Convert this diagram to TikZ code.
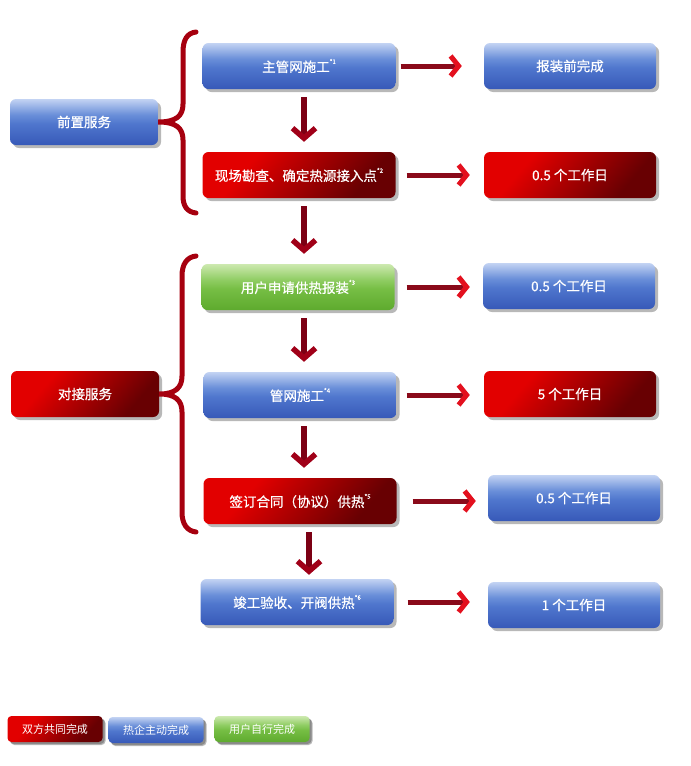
\documentclass[tikz,border=0pt]{standalone}
\usepackage{fontspec}
\setmainfont{Noto Sans CJK SC}
\newfontfamily\boxfont{Noto Sans CJK SC}[FakeBold=0.6]
\usetikzlibrary{arrows.meta,shadows}
\definecolor{bBot}{HTML}{3759B8}
\definecolor{bMid}{HTML}{4F76CD}
\definecolor{bMid2}{HTML}{6A8FD9}
\definecolor{bTop}{HTML}{C3D3F3}
\definecolor{gBot}{HTML}{5EAA2E}
\definecolor{gMid}{HTML}{76BE44}
\definecolor{gMid2}{HTML}{90CD64}
\definecolor{gTop}{HTML}{CDE9B0}
\definecolor{rA}{HTML}{E20000}
\definecolor{rB}{HTML}{680002}
\definecolor{arrdark}{HTML}{8A0A1A}
\definecolor{arrbright}{HTML}{E3101E}
\definecolor{varrdark}{HTML}{7C0014}
\definecolor{varrtip}{HTML}{A00018}
\definecolor{bracecol}{HTML}{A6000F}
\pgfdeclareverticalshading{blueshade}{100bp}{color(0bp)=(bBot); color(25bp)=(bBot); color(48bp)=(bMid); color(58bp)=(bMid2); color(75bp)=(bTop); color(100bp)=(bTop)}
\pgfdeclareverticalshading{greenshade}{100bp}{color(0bp)=(gBot); color(25bp)=(gBot); color(48bp)=(gMid); color(58bp)=(gMid2); color(75bp)=(gTop); color(100bp)=(gTop)}
\pgfdeclarehorizontalshading{redshade}{100bp}{color(0bp)=(rA); color(32bp)=(rA); color(72bp)=(rB); color(100bp)=(rB)}
\newcommand\mysup[1]{\raisebox{0.6em}{\fontsize{6}{6}\selectfont #1}}
\begin{document}
\begin{tikzpicture}[x=1pt,y=-1pt,
  box/.style={rounded corners=6pt, minimum height=46pt, text=white, inner sep=0pt,
    font=\boxfont\fontsize{13.5}{15}\selectfont,
    general shadow={shadow xshift=3pt, shadow yshift=-3pt, fill=black, opacity=0.28}},
  bluebox/.style={box, shading=blueshade},
  greenbox/.style={box, shading=greenshade},
  redbox/.style={box, shading=redshade, shading angle=-40},
  wmain/.style={minimum width=193pt},
  wright/.style={minimum width=172pt},
  wleft/.style={minimum width=148pt},
  legend/.style={minimum width=95pt, minimum height=26pt, rounded corners=4pt,
    font=\fontsize{11}{13}\selectfont,
    general shadow={shadow xshift=2pt, shadow yshift=-2pt, fill=black, opacity=0.25}},
  harr/.style={line width=5pt, draw=arrdark, -{Straight Barb[length=8pt,width=20pt,color=arrbright]}},
  varr/.style={line width=5.5pt, draw=varrdark, -{Straight Barb[length=10pt,width=23pt,color=varrtip]},
    shorten <=8pt, shorten >=10pt},
  brace/.style={draw=bracecol, line width=5pt, line cap=round}
]
\useasboundingbox (0,0) rectangle (691,766);
% left nodes
\node[bluebox,wleft] (pre) at (84,122) {前置服务};
\node[redbox,wleft] (dock) at (85,394) {对接服务};
% middle column
\node[bluebox,wmain] (m1) at (299,66) {主管网施工\mysup{*1}};
\node[redbox,wmain] (m2) at (299,175) {现场勘查、确定热源接入点\mysup{*2}};
\node[greenbox,wmain] (m3) at (298,287) {用户申请供热报装\mysup{*3}};
\node[bluebox,wmain] (m4) at (300,395) {管网施工\mysup{*4}};
\node[redbox,wmain] (m5) at (300,501) {签订合同（协议）供热\mysup{*5}};
\node[bluebox,wmain] (m6) at (297,602) {竣工验收、开阀供热\mysup{*6}};
% right column
\node[bluebox,wright] (r1) at (570,66) {报装前完成};
\node[redbox,wright] (r2) at (570,175) {0.5 个工作日};
\node[bluebox,wright] (r3) at (569,286) {0.5 个工作日};
\node[redbox,wright] (r4) at (570,394) {5 个工作日};
\node[bluebox,wright] (r5) at (574,498) {0.5 个工作日};
\node[bluebox,wright] (r6) at (574,605) {1 个工作日};
% braces
\draw[brace] (196,32) .. controls (187,33) and (183,40) .. (183,52) -- (183,104)
  .. controls (183,116) and (176,122) .. (pre.east)
  .. controls (176,122) and (183,128) .. (183,140) -- (183,196)
  .. controls (183,206) and (187,212) .. (196,213);
\draw[brace] (196,256) .. controls (187,257) and (182,264) .. (182,276) -- (182,376)
  .. controls (182,388) and (175,394) .. (dock.east)
  .. controls (175,394) and (182,400) .. (182,412) -- (182,512)
  .. controls (182,524) and (187,531) .. (196,532);
% horizontal arrows
\draw[harr, shorten <=5pt, shorten >=22pt] (m1.east) -- (m1.east -| r1.west);
\draw[harr, shorten <=11pt, shorten >=14pt] (m2.east) -- (m2.east -| r2.west);
\draw[harr, shorten <=12pt, shorten >=13pt] (m3.east) -- (m3.east -| r3.west);
\draw[harr, shorten <=10pt, shorten >=14pt] (m4.east) -- (m4.east -| r4.west);
\draw[harr, shorten <=16pt, shorten >=12pt] (m5.east) -- (m5.east -| r5.west);
\draw[harr, shorten <=14pt, shorten >=18pt] (m6.east) -- (m6.east -| r6.west);
% vertical arrows
\draw[varr] ([xshift=5pt]m1.south) -- ([xshift=5pt]m1.south |- m2.north);
\draw[varr] ([xshift=5pt]m2.south) -- ([xshift=5pt]m2.south |- m3.north);
\draw[varr] ([xshift=6pt]m3.south) -- ([xshift=6pt]m3.south |- m4.north);
\draw[varr] ([xshift=4pt]m4.south) -- ([xshift=4pt]m4.south |- m5.north);
\draw[varr, shorten >=4pt] ([xshift=9pt]m5.south) -- ([xshift=9pt]m5.south |- m6.north);
% legend
\node[redbox, legend] (l1) at (55,729) {双方共同完成};
\node[bluebox, legend] (l2) at (156,730) {热企主动完成};
\node[greenbox, legend] (l3) at (262,729) {用户自行完成};
\end{tikzpicture}
\end{document}
